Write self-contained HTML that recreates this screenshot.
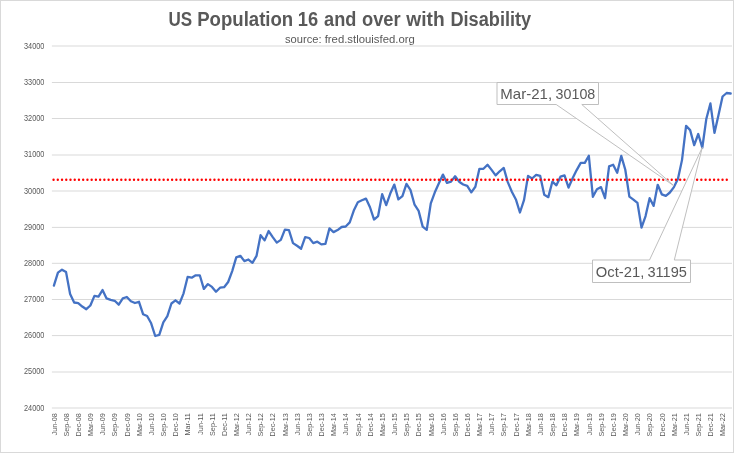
<!DOCTYPE html>
<html><head><meta charset="utf-8"><title>US Population 16 and over with Disability</title>
<style>
html,body{margin:0;padding:0;background:#fff;}
svg{display:block;will-change:transform;}
text{font-family:"Liberation Sans", sans-serif;}
.ax{font-size:7.6px;fill:#595959;}
.ay{font-size:8.6px;fill:#595959;}
.title{font-size:19.5px;font-weight:bold;fill:#595959;}
.sub{font-size:11.7px;fill:#595959;}
.co{font-size:15px;fill:#595959;}
</style></head>
<body>
<svg width="734" height="453" viewBox="0 0 734 453">
<rect width="734" height="453" fill="#fff"/>
<line x1="51.9" y1="408.00" x2="732" y2="408.00" stroke="#d9d9d9" stroke-width="1"/>
<line x1="51.9" y1="372.00" x2="732" y2="372.00" stroke="#d9d9d9" stroke-width="1"/>
<line x1="51.9" y1="335.60" x2="732" y2="335.60" stroke="#d9d9d9" stroke-width="1"/>
<line x1="51.9" y1="299.50" x2="732" y2="299.50" stroke="#d9d9d9" stroke-width="1"/>
<line x1="51.9" y1="263.30" x2="732" y2="263.30" stroke="#d9d9d9" stroke-width="1"/>
<line x1="51.9" y1="227.40" x2="732" y2="227.40" stroke="#d9d9d9" stroke-width="1"/>
<line x1="51.9" y1="191.00" x2="732" y2="191.00" stroke="#d9d9d9" stroke-width="1"/>
<line x1="51.9" y1="155.00" x2="732" y2="155.00" stroke="#d9d9d9" stroke-width="1"/>
<line x1="51.9" y1="118.50" x2="732" y2="118.50" stroke="#d9d9d9" stroke-width="1"/>
<line x1="51.9" y1="82.50" x2="732" y2="82.50" stroke="#d9d9d9" stroke-width="1"/>
<line x1="51.9" y1="46.00" x2="732" y2="46.00" stroke="#d9d9d9" stroke-width="1"/>
<text x="44.4" y="410.55" text-anchor="end" class="ay" textLength="20.4" lengthAdjust="spacingAndGlyphs">24000</text>
<text x="44.4" y="374.39" text-anchor="end" class="ay" textLength="20.4" lengthAdjust="spacingAndGlyphs">25000</text>
<text x="44.4" y="338.23" text-anchor="end" class="ay" textLength="20.4" lengthAdjust="spacingAndGlyphs">26000</text>
<text x="44.4" y="302.07" text-anchor="end" class="ay" textLength="20.4" lengthAdjust="spacingAndGlyphs">27000</text>
<text x="44.4" y="265.91" text-anchor="end" class="ay" textLength="20.4" lengthAdjust="spacingAndGlyphs">28000</text>
<text x="44.4" y="229.75" text-anchor="end" class="ay" textLength="20.4" lengthAdjust="spacingAndGlyphs">29000</text>
<text x="44.4" y="193.59" text-anchor="end" class="ay" textLength="20.4" lengthAdjust="spacingAndGlyphs">30000</text>
<text x="44.4" y="157.43" text-anchor="end" class="ay" textLength="20.4" lengthAdjust="spacingAndGlyphs">31000</text>
<text x="44.4" y="121.27" text-anchor="end" class="ay" textLength="20.4" lengthAdjust="spacingAndGlyphs">32000</text>
<text x="44.4" y="85.11" text-anchor="end" class="ay" textLength="20.4" lengthAdjust="spacingAndGlyphs">33000</text>
<text x="44.4" y="48.95" text-anchor="end" class="ay" textLength="20.4" lengthAdjust="spacingAndGlyphs">34000</text>
<text transform="translate(56.65,413.2) rotate(-90) scale(0.95,1)" text-anchor="end" class="ax">Jun-08</text>
<text transform="translate(68.81,413.2) rotate(-90) scale(0.95,1)" text-anchor="end" class="ax">Sep-08</text>
<text transform="translate(80.97,413.2) rotate(-90) scale(0.95,1)" text-anchor="end" class="ax">Dec-08</text>
<text transform="translate(93.12,413.2) rotate(-90) scale(0.95,1)" text-anchor="end" class="ax">Mar-09</text>
<text transform="translate(105.28,413.2) rotate(-90) scale(0.95,1)" text-anchor="end" class="ax">Jun-09</text>
<text transform="translate(117.44,413.2) rotate(-90) scale(0.95,1)" text-anchor="end" class="ax">Sep-09</text>
<text transform="translate(129.59,413.2) rotate(-90) scale(0.95,1)" text-anchor="end" class="ax">Dec-09</text>
<text transform="translate(141.75,413.2) rotate(-90) scale(0.95,1)" text-anchor="end" class="ax">Mar-10</text>
<text transform="translate(153.91,413.2) rotate(-90) scale(0.95,1)" text-anchor="end" class="ax">Jun-10</text>
<text transform="translate(166.07,413.2) rotate(-90) scale(0.95,1)" text-anchor="end" class="ax">Sep-10</text>
<text transform="translate(178.22,413.2) rotate(-90) scale(0.95,1)" text-anchor="end" class="ax">Dec-10</text>
<text transform="translate(190.38,413.2) rotate(-90) scale(0.95,1)" text-anchor="end" class="ax">Mar-11</text>
<text transform="translate(202.54,413.2) rotate(-90) scale(0.95,1)" text-anchor="end" class="ax">Jun-11</text>
<text transform="translate(214.70,413.2) rotate(-90) scale(0.95,1)" text-anchor="end" class="ax">Sep-11</text>
<text transform="translate(226.86,413.2) rotate(-90) scale(0.95,1)" text-anchor="end" class="ax">Dec-11</text>
<text transform="translate(239.01,413.2) rotate(-90) scale(0.95,1)" text-anchor="end" class="ax">Mar-12</text>
<text transform="translate(251.17,413.2) rotate(-90) scale(0.95,1)" text-anchor="end" class="ax">Jun-12</text>
<text transform="translate(263.33,413.2) rotate(-90) scale(0.95,1)" text-anchor="end" class="ax">Sep-12</text>
<text transform="translate(275.49,413.2) rotate(-90) scale(0.95,1)" text-anchor="end" class="ax">Dec-12</text>
<text transform="translate(287.64,413.2) rotate(-90) scale(0.95,1)" text-anchor="end" class="ax">Mar-13</text>
<text transform="translate(299.80,413.2) rotate(-90) scale(0.95,1)" text-anchor="end" class="ax">Jun-13</text>
<text transform="translate(311.96,413.2) rotate(-90) scale(0.95,1)" text-anchor="end" class="ax">Sep-13</text>
<text transform="translate(324.12,413.2) rotate(-90) scale(0.95,1)" text-anchor="end" class="ax">Dec-13</text>
<text transform="translate(336.27,413.2) rotate(-90) scale(0.95,1)" text-anchor="end" class="ax">Mar-14</text>
<text transform="translate(348.43,413.2) rotate(-90) scale(0.95,1)" text-anchor="end" class="ax">Jun-14</text>
<text transform="translate(360.59,413.2) rotate(-90) scale(0.95,1)" text-anchor="end" class="ax">Sep-14</text>
<text transform="translate(372.75,413.2) rotate(-90) scale(0.95,1)" text-anchor="end" class="ax">Dec-14</text>
<text transform="translate(384.90,413.2) rotate(-90) scale(0.95,1)" text-anchor="end" class="ax">Mar-15</text>
<text transform="translate(397.06,413.2) rotate(-90) scale(0.95,1)" text-anchor="end" class="ax">Jun-15</text>
<text transform="translate(409.22,413.2) rotate(-90) scale(0.95,1)" text-anchor="end" class="ax">Sep-15</text>
<text transform="translate(421.38,413.2) rotate(-90) scale(0.95,1)" text-anchor="end" class="ax">Dec-15</text>
<text transform="translate(433.53,413.2) rotate(-90) scale(0.95,1)" text-anchor="end" class="ax">Mar-16</text>
<text transform="translate(445.69,413.2) rotate(-90) scale(0.95,1)" text-anchor="end" class="ax">Jun-16</text>
<text transform="translate(457.85,413.2) rotate(-90) scale(0.95,1)" text-anchor="end" class="ax">Sep-16</text>
<text transform="translate(470.00,413.2) rotate(-90) scale(0.95,1)" text-anchor="end" class="ax">Dec-16</text>
<text transform="translate(482.16,413.2) rotate(-90) scale(0.95,1)" text-anchor="end" class="ax">Mar-17</text>
<text transform="translate(494.32,413.2) rotate(-90) scale(0.95,1)" text-anchor="end" class="ax">Jun-17</text>
<text transform="translate(506.48,413.2) rotate(-90) scale(0.95,1)" text-anchor="end" class="ax">Sep-17</text>
<text transform="translate(518.63,413.2) rotate(-90) scale(0.95,1)" text-anchor="end" class="ax">Dec-17</text>
<text transform="translate(530.79,413.2) rotate(-90) scale(0.95,1)" text-anchor="end" class="ax">Mar-18</text>
<text transform="translate(542.95,413.2) rotate(-90) scale(0.95,1)" text-anchor="end" class="ax">Jun-18</text>
<text transform="translate(555.11,413.2) rotate(-90) scale(0.95,1)" text-anchor="end" class="ax">Sep-18</text>
<text transform="translate(567.26,413.2) rotate(-90) scale(0.95,1)" text-anchor="end" class="ax">Dec-18</text>
<text transform="translate(579.42,413.2) rotate(-90) scale(0.95,1)" text-anchor="end" class="ax">Mar-19</text>
<text transform="translate(591.58,413.2) rotate(-90) scale(0.95,1)" text-anchor="end" class="ax">Jun-19</text>
<text transform="translate(603.74,413.2) rotate(-90) scale(0.95,1)" text-anchor="end" class="ax">Sep-19</text>
<text transform="translate(615.89,413.2) rotate(-90) scale(0.95,1)" text-anchor="end" class="ax">Dec-19</text>
<text transform="translate(628.05,413.2) rotate(-90) scale(0.95,1)" text-anchor="end" class="ax">Mar-20</text>
<text transform="translate(640.21,413.2) rotate(-90) scale(0.95,1)" text-anchor="end" class="ax">Jun-20</text>
<text transform="translate(652.37,413.2) rotate(-90) scale(0.95,1)" text-anchor="end" class="ax">Sep-20</text>
<text transform="translate(664.52,413.2) rotate(-90) scale(0.95,1)" text-anchor="end" class="ax">Dec-20</text>
<text transform="translate(676.68,413.2) rotate(-90) scale(0.95,1)" text-anchor="end" class="ax">Mar-21</text>
<text transform="translate(688.84,413.2) rotate(-90) scale(0.95,1)" text-anchor="end" class="ax">Jun-21</text>
<text transform="translate(701.00,413.2) rotate(-90) scale(0.95,1)" text-anchor="end" class="ax">Sep-21</text>
<text transform="translate(713.15,413.2) rotate(-90) scale(0.95,1)" text-anchor="end" class="ax">Dec-21</text>
<text transform="translate(725.31,413.2) rotate(-90) scale(0.95,1)" text-anchor="end" class="ax">Mar-22</text>
<polyline points="53.90,285.56 57.95,272.69 62.00,269.69 66.06,272.11 70.11,293.99 74.16,302.49 78.22,303.11 82.27,306.51 86.32,309.22 90.37,305.49 94.43,295.87 98.48,296.67 102.53,290.05 106.58,298.40 110.63,299.82 114.69,300.79 118.74,304.70 122.79,298.40 126.84,296.96 130.90,301.30 134.95,303.00 139.00,301.80 143.06,314.21 147.11,316.06 151.16,323.29 155.21,335.99 159.27,334.79 163.32,322.39 167.37,316.20 171.42,303.50 175.47,300.29 179.53,303.50 183.58,293.30 187.63,276.99 191.69,277.72 195.74,275.29 199.79,275.29 203.84,288.89 207.90,284.12 211.95,286.90 216.00,291.71 220.05,287.70 224.11,287.19 228.16,281.98 232.21,271.10 236.26,257.32 240.32,255.80 244.37,261.11 248.42,259.52 252.47,262.81 256.52,255.91 260.58,235.22 264.63,240.39 268.68,231.02 272.74,237.10 276.79,242.59 280.84,239.88 284.89,229.68 288.94,230.19 293.00,243.10 297.05,245.71 301.10,248.71 305.16,237.10 309.21,238.00 313.26,243.10 317.31,241.69 321.37,244.40 325.42,243.90 329.47,228.31 333.52,232.11 337.57,230.08 341.63,227.01 345.68,226.50 349.73,222.41 353.78,210.51 357.84,202.19 361.89,200.31 365.94,198.61 370.00,207.26 374.05,219.52 378.10,216.01 382.15,194.09 386.20,205.09 390.26,193.51 394.31,184.58 398.36,199.41 402.42,196.19 406.47,183.89 410.52,190.08 414.57,204.72 418.62,210.87 422.68,226.61 426.73,229.90 430.78,203.39 434.83,192.32 438.89,183.20 442.94,174.59 446.99,182.88 451.05,181.58 455.10,176.29 459.15,181.68 463.20,184.47 467.25,185.88 471.31,192.32 475.36,186.78 479.41,168.81 483.46,168.81 487.52,164.72 491.57,169.89 495.62,175.39 499.68,171.30 503.73,167.94 507.78,182.08 511.83,191.70 515.88,199.41 519.94,212.50 523.99,200.20 528.04,175.90 532.10,178.50 536.15,174.99 540.20,175.90 544.25,194.81 548.31,197.13 552.36,181.68 556.41,185.30 560.46,176.69 564.51,175.39 568.57,187.58 572.62,178.28 576.67,170.11 580.73,162.91 584.78,162.91 588.83,155.79 592.88,196.77 596.94,189.17 600.99,187.11 605.04,198.21 609.09,166.42 613.14,164.79 617.20,172.79 621.25,155.90 625.30,169.78 629.36,196.59 633.41,199.59 637.46,202.84 641.51,227.51 645.57,216.01 649.62,198.21 653.67,205.88 657.72,184.79 661.77,194.31 665.83,195.90 669.88,192.50 673.93,187.07 677.99,178.79 682.04,159.87 686.09,125.80 690.14,130.11 694.20,145.19 698.25,134.01 702.30,147.76 706.35,118.71 710.40,103.45 714.46,132.93 718.51,115.10 722.56,96.50 726.62,93.00 730.67,93.50" fill="none" stroke="#4472c4" stroke-width="2.3" stroke-linejoin="round" stroke-linecap="round"/>
<line x1="53.56" y1="179.8" x2="727.2" y2="179.8" stroke="#ff0000" stroke-width="2.4" stroke-dasharray="0 4.234" stroke-linecap="round"/>
<path d="M497.0,82.5 L598.5,82.5 L598.5,104.5 L581.8,104.5 L674.0,185.9 L556.2,104.5 L497.0,104.5 Z" fill="#fff" stroke="#bfbfbf" stroke-width="1"/>
<path d="M592.5,260.0 L649.5,260.0 L702.3,147.4 L674.3,260.0 L690.5,260.0 L690.5,282.5 L592.5,282.5 Z" fill="#fff" stroke="#bfbfbf" stroke-width="1"/>
<text x="168.44" y="26.4" class="title" textLength="23.68" lengthAdjust="spacingAndGlyphs">US</text>
<text x="197.16" y="26.4" class="title" textLength="96.06" lengthAdjust="spacingAndGlyphs">Population</text>
<text x="297.85" y="26.4" class="title" textLength="20.32" lengthAdjust="spacingAndGlyphs">16</text>
<text x="324.09" y="26.4" class="title" textLength="32.29" lengthAdjust="spacingAndGlyphs">and</text>
<text x="362.01" y="26.4" class="title" textLength="38.70" lengthAdjust="spacingAndGlyphs">over</text>
<text x="406.32" y="26.4" class="title" textLength="38.31" lengthAdjust="spacingAndGlyphs">with</text>
<text x="450.45" y="26.4" class="title" textLength="80.77" lengthAdjust="spacingAndGlyphs">Disability</text>
<text x="284.98" y="42.8" class="sub" textLength="36.53" lengthAdjust="spacingAndGlyphs">source:</text>
<text x="324.67" y="42.8" class="sub" textLength="90.13" lengthAdjust="spacingAndGlyphs">fred.stlouisfed.org</text>
<text x="500.33" y="98.7" class="co" textLength="51.73" lengthAdjust="spacingAndGlyphs">Mar-21,</text>
<text x="555.62" y="98.7" class="co" textLength="39.64" lengthAdjust="spacingAndGlyphs">30108</text>
<text x="595.85" y="276.6" class="co" textLength="48.44" lengthAdjust="spacingAndGlyphs">Oct-21,</text>
<text x="647.43" y="276.6" class="co" textLength="39.41" lengthAdjust="spacingAndGlyphs">31195</text>
<rect x="0.5" y="0.5" width="733" height="452" fill="none" stroke="#d9d9d9" stroke-width="1"/>
</svg>
</body></html>
